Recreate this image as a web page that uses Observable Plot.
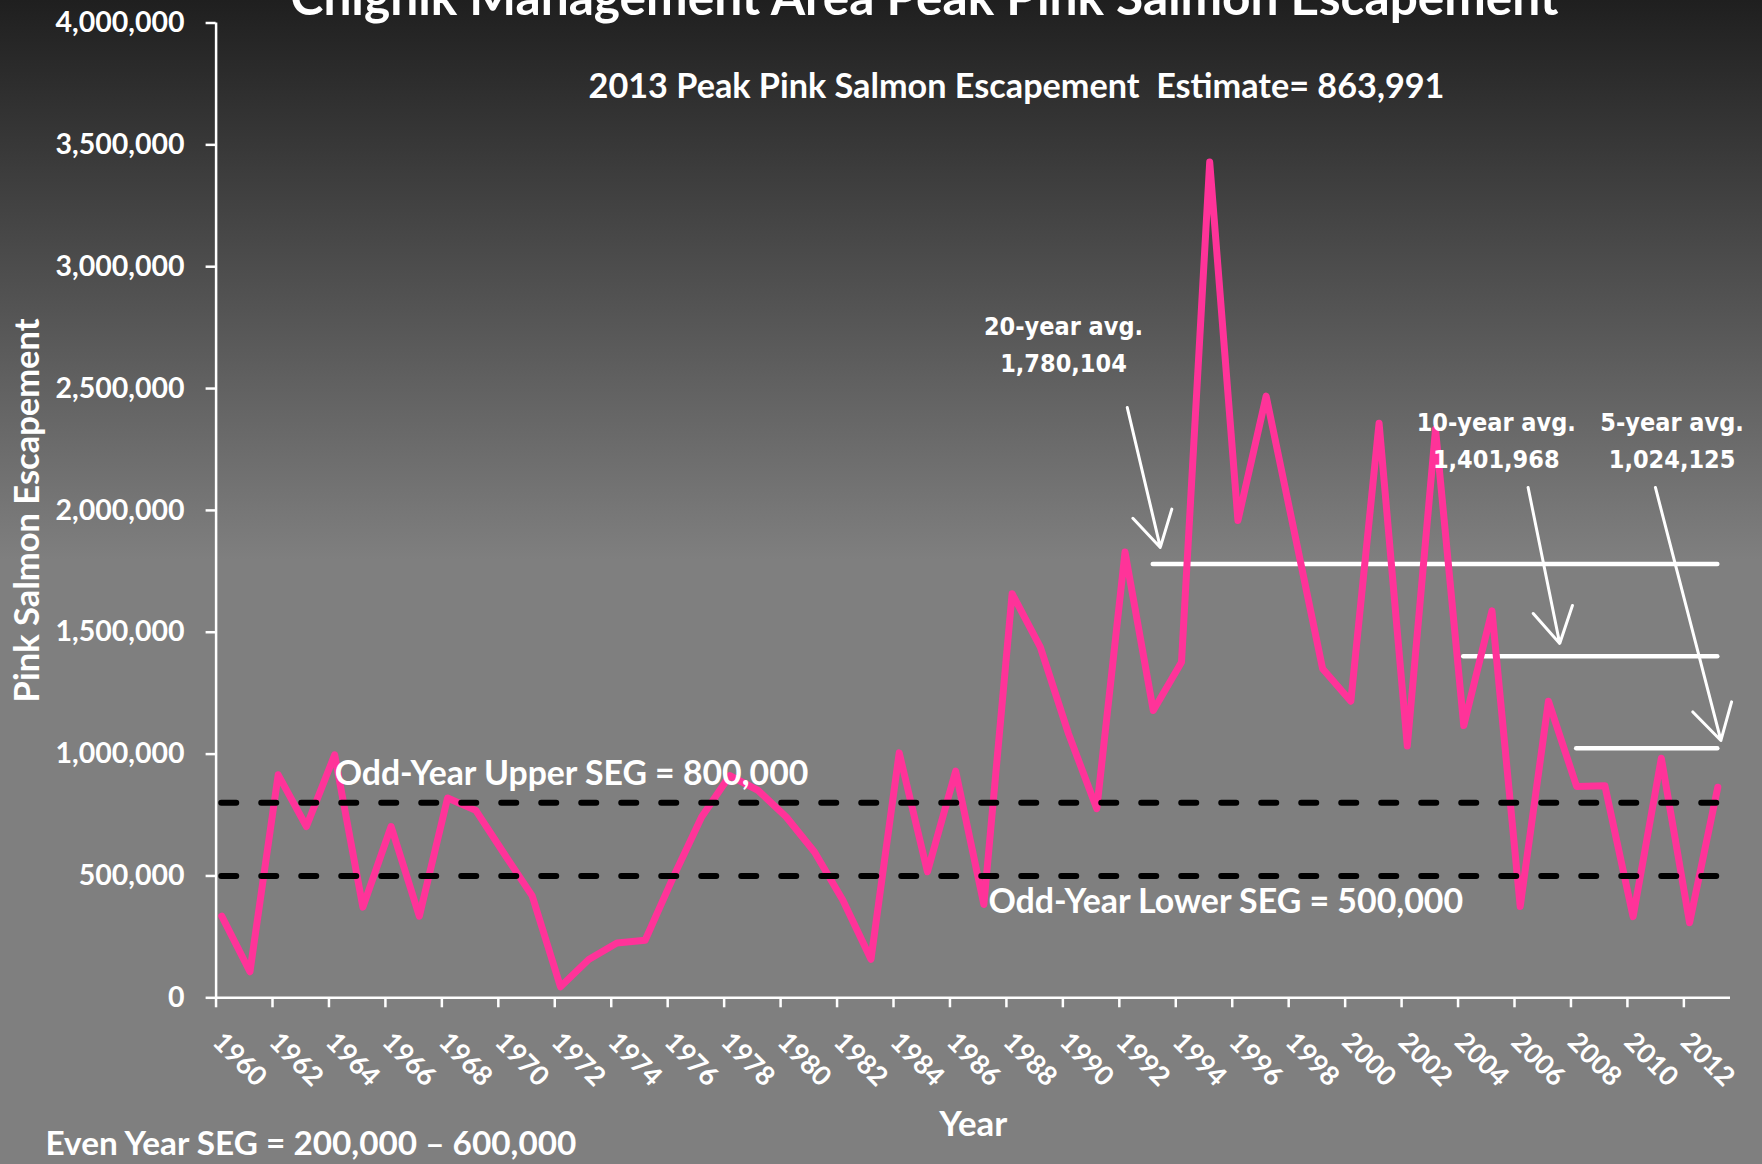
<!DOCTYPE html>
<html>
<head>
<meta charset="utf-8">
<script src="https://cdn.jsdelivr.net/npm/d3@7"></script>
<script src="https://cdn.jsdelivr.net/npm/@observablehq/plot@0.6"></script>
<style>
  html, body { margin: 0; padding: 0; }
  body {
    width: 1762px; height: 1164px; overflow: hidden; position: relative;
    background: linear-gradient(to bottom, #1f1f1f 0px, #7f7f7f 560px, #7f7f7f 1164px);
  }
  #chart { position: absolute; left: 0; top: 0; }
</style>
</head>
<body>
<div id="chart"></div>
<script>
// ---------------- data ----------------
const years = [1960,1961,1962,1963,1964,1965,1966,1967,1968,1969,
               1970,1971,1972,1973,1974,1975,1976,1977,1978,1979,
               1980,1981,1982,1983,1984,1985,1986,1987,1988,1989,
               1990,1991,1992,1993,1994,1995,1996,1997,1998,1999,
               2000,2001,2002,2003,2004,2005,2006,2007,2008,2009,
               2010,2011,2012,2013];
const escapement = [335000,107000,915000,703000,997000,372000,703000,335000,820000,769000,
                    592000,418000,45000,157000,225000,236000,496000,742000,912000,851000,
                    742000,598000,401000,158000,1005000,517000,930000,383000,1658000,1439000,
                    1083000,776000,1829000,1179000,1377000,3430000,1959000,2469000,1910000,1350000,
                    1217000,2358000,1033000,2333000,1117000,1588000,375000,1217000,867000,870000,
                    333000,983000,308000,863991];
const tickYears = [1960,1962,1964,1966,1968,1970,1972,1974,1976,1978,1980,1982,1984,1986,
                   1988,1990,1992,1994,1996,1998,2000,2002,2004,2006,2008,2010,2012];
const yTicks = [0,500000,1000000,1500000,2000000,2500000,3000000,3500000,4000000];

const segLevels = [800000, 500000];
const segLabels = ["Odd-Year Upper SEG = 800,000", "Odd-Year Lower SEG = 500,000"];

const avgNames  = ["20-year avg.", "10-year avg.", "5-year avg."];
const avgValues = [1780104, 1401968, 1024125];
const avgValueText = ["1,780,104", "1,401,968", "1,024,125"];
const avgStartYears = [1993, 2004, 2008];
const lastYear = 2013;

const titleText = "Chignik Management Area Peak Pink Salmon Escapement";
const subtitleText = "2013 Peak Pink Salmon Escapement  Estimate= 863,991";
const captionText = "Even Year SEG = 200,000 \u2013 600,000";
const yLabel = "Pink Salmon Escapement";
const xLabel = "Year";

// annotation anchors (in data space: year, escapement)
const segLabelYear  = [1964, 1987.16];
const segLabelValue = [872000, 346000];
const avgLabelYear  = [1989.82, 2005.15, 2011.38];
const avgLabelValue = [2566000, 2176000, 2176000];
const arrowFromYear  = [1992.08, 2006.28, 2010.79];
const arrowFromValue = [2422000, 2094000, 2094000];
const arrowToYear    = [1993.25, 2007.40, 2013.11];
const arrowToValue   = [1848000, 1454000, 1056000];

// ---------------- tables ----------------
const series = years.map((year, i) => ({year, value: escapement[i]}));
const avgs = avgValues.map((v, i) => ({value: v, start: avgStartYears[i], end: lastYear}));
const avgLabelRows = avgNames.map((n, i) => ({text: n + "\n" + avgValueText[i], year: avgLabelYear[i], value: avgLabelValue[i]}));
const arrows = arrowFromYear.map((d, i) => ({x1: d, y1: arrowFromValue[i], x2: arrowToYear[i], y2: arrowToValue[i]}));
const segLabelRows = segLabels.map((t, i) => ({text: t, year: segLabelYear[i], value: segLabelValue[i]}));

const xDomain = [1959.8, 2013.45];
const white = "#ffffff";
const annFont = "'DejaVu Sans Condensed', 'DejaVu Sans', sans-serif";

const plot = Plot.plot({
  width: 1762, height: 1164,
  marginLeft: 215.6, marginRight: 32, marginTop: 22.5, marginBottom: 166.7,
  style: {background: "transparent", color: white, fontFamily: "Lato, 'Open Sans', sans-serif", fontWeight: "bold"},
  x: {domain: xDomain, label: null},
  y: {domain: [0, 4000000], label: null},
  marks: [
    // average lines
    Plot.ruleY(avgs, {y: "value", x1: "start", x2: "end", stroke: white, strokeWidth: 4.5, strokeLinecap: "round"}),
    // escapement series
    Plot.line(series, {x: "year", y: "value", stroke: "#FF3399", strokeWidth: 7, strokeLinejoin: "round", strokeLinecap: "round"}),
    // SEG dashed lines
    Plot.ruleY(segLevels, {x1: years[0], x2: lastYear, stroke: "#000", strokeWidth: 6, strokeDasharray: "15,25", strokeLinecap: "round"}),
    // arrows
    Plot.arrow(arrows, {x1: "x1", y1: "y1", x2: "x2", y2: "y2", stroke: white, strokeWidth: 3, headLength: 20, headAngle: 60}),
    // axes
    Plot.ruleX([xDomain[0]], {y1: 0, y2: 4000000, stroke: white, strokeWidth: 2.5}),
    Plot.ruleY([0], {stroke: white, strokeWidth: 2.5}),
    Plot.axisY({ticks: yTicks, tickSize: 10, tickPadding: 21.6, tickFormat: d3.format(","), fontSize: 28.5, stroke: white, strokeWidth: 2.5, fill: white, label: null}),
    Plot.axisX({ticks: tickYears, tickSize: 10, tickFormat: () => "", dx: -5.7, stroke: white, strokeWidth: 2.5, label: null}),
    Plot.text(tickYears, {x: d => d, y: () => 0, text: d => String(d), rotate: 45, textAnchor: "start", lineAnchor: "middle", dx: -4.3, dy: 39.7, fontSize: 27, fill: white}),
    // axis titles
    Plot.text([yLabel], {text: d => d, frameAnchor: "left", rotate: -90, dx: -188.6, lineAnchor: "middle", textAnchor: "middle", fontSize: 34, fill: white}),
    Plot.text([xLabel], {text: d => d, frameAnchor: "bottom", dy: 137.7, lineAnchor: "bottom", fontSize: 33, fill: white}),
    // SEG labels
    Plot.text(segLabelRows, {x: "year", y: "value", text: "text", textAnchor: "start", lineAnchor: "bottom", fontSize: 33, fill: white}),
    // average labels
    Plot.text(avgLabelRows, {x: "year", y: "value", text: "text", textAnchor: "middle", lineAnchor: "bottom", lineHeight: 1.48, fontSize: 25, fontFamily: annFont, fontWeight: "bold", fill: white}),
    // title / subtitle / caption
    Plot.text([titleText], {text: d => d, frameAnchor: "top", dx: -48.8, dy: -8.5, lineAnchor: "bottom", fontSize: 50, fill: white}),
    Plot.text([subtitleText], {text: d => d, frameAnchor: "top", dx: 43.2, dy: 74.5, lineAnchor: "bottom", fontSize: 34, fill: white}),
    Plot.text([captionText], {text: d => d, frameAnchor: "bottom-left", dx: -170.6, dy: 156.7, textAnchor: "start", lineAnchor: "bottom", fontSize: 33, fill: white})
  ]
});

document.getElementById("chart").appendChild(plot);

// keep white-space (double space in subtitle)
plot.querySelectorAll("text").forEach(t => t.setAttribute("xml:space", "preserve"));
plot.querySelectorAll("text").forEach(t => t.style.whiteSpace = "pre");

// fit selected texts to the widths measured on the reference
function fitText(str, target) {
  for (const t of plot.querySelectorAll("text")) {
    if (t.textContent === str) {
      const w = t.getComputedTextLength();
      if (w > 0) {
        const fs = parseFloat(getComputedStyle(t).fontSize);
        t.style.fontSize = (fs * target / w) + "px";
      }
    }
  }
}
fitText(titleText, 1268);
fitText(subtitleText, 856);
fitText(captionText, 531);
fitText(yLabel, 384);
fitText(xLabel, 68);
fitText(segLabels[0], 474);
fitText(segLabels[1], 475);
</script>
</body>
</html>
